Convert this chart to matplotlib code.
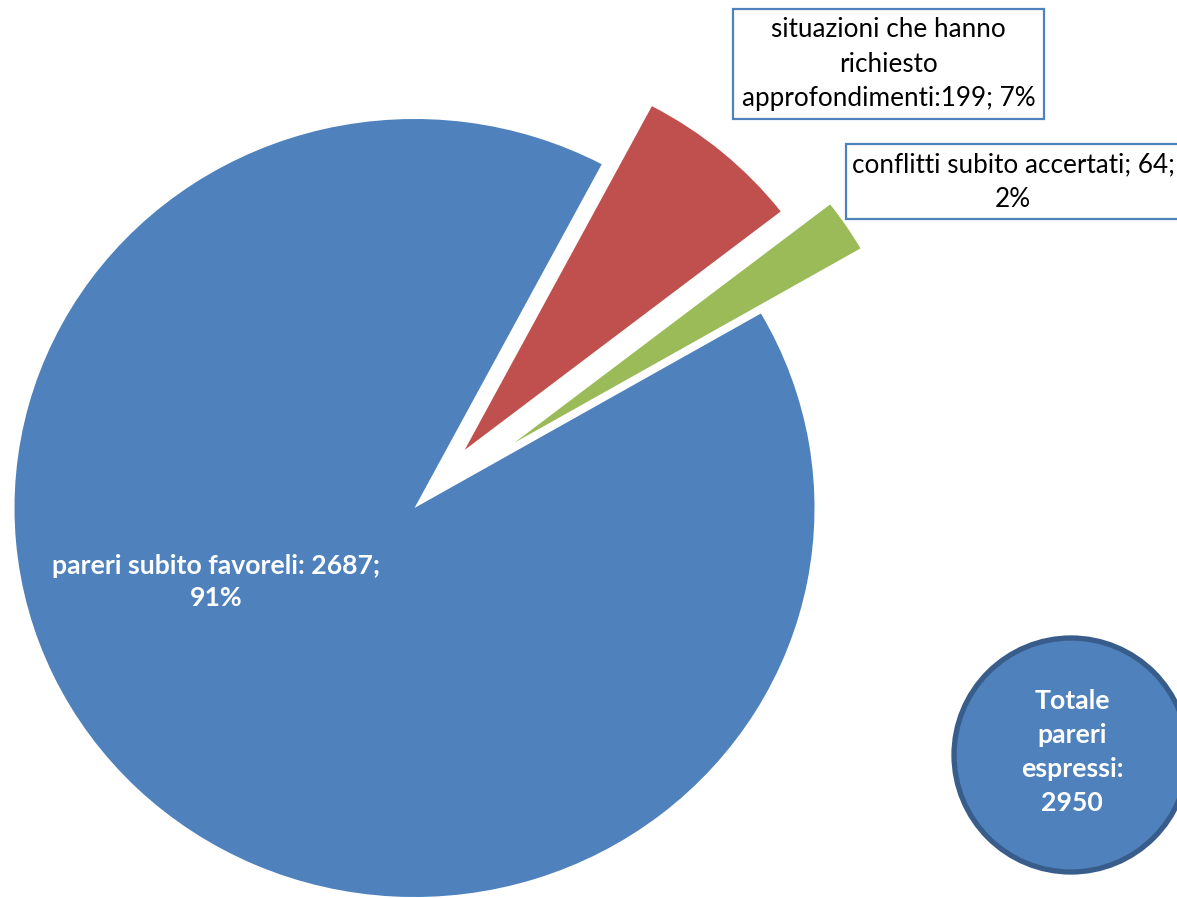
import matplotlib
matplotlib.use('Agg')
import matplotlib.pyplot as plt
from matplotlib.patches import Circle, Rectangle

# ---- data ----
categories = ['pareri subito favoreli', 'situazioni che hanno richiesto approfondimenti', 'conflitti subito accertati']
values = [2687, 199, 64]
percents = ['91%', '7%', '2%']
total_label = 'Totale\npareri\nespressi:\n2950'

colors = ['#4F81BD', '#C0504D', '#9BBB59']
FONT = 'Lato'

W, H = 1177, 898
fig = plt.figure(figsize=(W / 100, H / 100), dpi=100)
ax = fig.add_axes([0, 0, 1, 1])
cx, cy, rx, ry = 414.5, 508, 400, 389
ax.pie(values, colors=colors, startangle=30, counterclock=False,
       explode=[0, 0.195, 0.3], radius=1, center=(0, 0),
       wedgeprops=dict(linewidth=0))
ax.set_aspect('auto')
ax.set_xlim(-cx / rx, (W - cx) / rx)
ax.set_ylim((cy - H) / ry, cy / ry)
ax.axis('off')

# overlay in pixel coordinates
ax2 = fig.add_axes([0, 0, 1, 1])
ax2.set_xlim(0, W)
ax2.set_ylim(H, 0)
ax2.axis('off')
ax2.patch.set_alpha(0)

# label of blue slice
ax2.text(216, 582, f'{categories[0]}: {values[0]};\n{percents[0]}', color='white',
         fontsize=19.2, fontweight='bold', family=FONT, ha='center', va='center',
         linespacing=1.45)

# label box of red slice
ax2.add_patch(Rectangle((733, 9), 311, 110, fill=True, fc='white', ec='#4F81BD', lw=1.6))
ax2.text(888.5, 64, 'situazioni che hanno\nrichiesto\napprofondimenti:' + f'{values[1]}; {percents[1]}',
         color='black', fontsize=18.8, family=FONT, ha='center', va='center', linespacing=1.48)

# label box of green slice
ax2.add_patch(Rectangle((846, 144), 340, 75, fill=True, fc='white', ec='#4F81BD', lw=1.6))
ax2.text(1013, 182, f'{categories[2]}; {values[2]};\n{percents[2]}',
         color='black', fontsize=18.8, family=FONT, ha='center', va='center', linespacing=1.48)

# total circle
ax2.add_patch(Circle((1071, 755), 117, fc='#4F81BD', ec='#385D8A', lw=3.8))
ax2.text(1072, 752, total_label, color='white', fontsize=19.2, fontweight='bold',
         family=FONT, ha='center', va='center', linespacing=1.5)

fig.savefig('out.png', dpi=100)
